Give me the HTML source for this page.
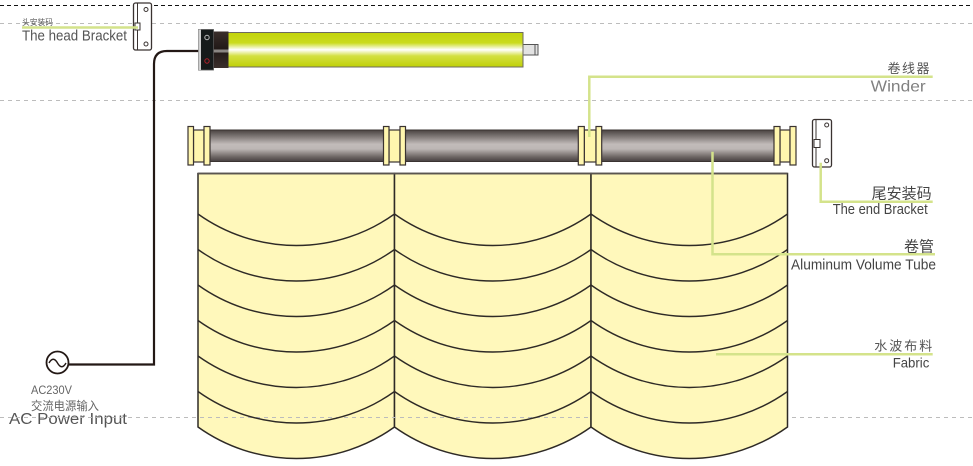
<!DOCTYPE html>
<html><head><meta charset="utf-8"><style>
html,body{margin:0;padding:0;background:#fff;}
svg{display:block;}
.en{font-family:"Liberation Sans",sans-serif;}
.cn{font-family:"Liberation Sans","Noto Sans CJK SC",sans-serif;}
</style></head><body>
<svg width="973" height="466" viewBox="0 0 973 466" xmlns="http://www.w3.org/2000/svg">
<defs>
<linearGradient id="yg" x1="0" y1="0" x2="0" y2="1">
<stop offset="0" stop-color="#c2d30a"/>
<stop offset="0.3" stop-color="#cadb1e"/>
<stop offset="0.5" stop-color="#ffffff"/>
<stop offset="0.68" stop-color="#d3e040"/>
<stop offset="1" stop-color="#c0d008"/>
</linearGradient>
<linearGradient id="tg" x1="0" y1="0" x2="0" y2="1">
<stop offset="0" stop-color="#4a4341"/>
<stop offset="0.2" stop-color="#7d7674"/>
<stop offset="0.45" stop-color="#c1bbb9"/>
<stop offset="0.6" stop-color="#bdb7b5"/>
<stop offset="0.85" stop-color="#6e6765"/>
<stop offset="1" stop-color="#474040"/>
</linearGradient>
<linearGradient id="bg" x1="0" y1="0" x2="0" y2="1">
<stop offset="0" stop-color="#3a2e2b"/>
<stop offset="0.5" stop-color="#201816"/>
<stop offset="1" stop-color="#3a2e2b"/>
</linearGradient>
</defs>

<!-- dashed guide lines -->
<line x1="0" y1="5.5" x2="973" y2="5.5" stroke="#111" stroke-width="1" stroke-dasharray="4,3"/>
<line x1="0" y1="23.5" x2="973" y2="23.5" stroke="#bcbcbc" stroke-width="1" stroke-dasharray="4,4"/>
<line x1="0" y1="100.5" x2="973" y2="100.5" stroke="#bcbcbc" stroke-width="1" stroke-dasharray="4,4"/>
<line x1="0" y1="417.5" x2="973" y2="417.5" stroke="#bcbcbc" stroke-width="1" stroke-dasharray="4,4"/>

<!-- head bracket -->
<rect x="133.5" y="3" width="18" height="47" rx="2" fill="#fff" stroke="#3a3331" stroke-width="1.3"/>
<line x1="137.5" y1="3" x2="137.5" y2="50" stroke="#3a3331" stroke-width="1"/>
<rect x="135" y="23" width="5" height="7" fill="#fff" stroke="#3a3331" stroke-width="1"/>
<circle cx="146" cy="9.5" r="2" fill="#fff" stroke="#3a3331" stroke-width="1"/>
<circle cx="146" cy="44" r="2" fill="#fff" stroke="#3a3331" stroke-width="1"/>
<line x1="22" y1="27.5" x2="138" y2="27.5" stroke="#d4e38b" stroke-width="2.5"/>
<text x="22" y="25" class="cn" font-size="8" fill="#555" textLength="31" lengthAdjust="spacingAndGlyphs">头安装码</text>
<text x="22" y="40.5" class="en" font-size="14.5" fill="#555" textLength="105" lengthAdjust="spacingAndGlyphs">The head  Bracket</text>

<!-- cable -->
<path d="M199,51 H167 Q154,51 154,64 V364.5 H69" fill="none" stroke="#231815" stroke-width="2.2"/>
<circle cx="57.5" cy="362.5" r="11" fill="#fff" stroke="#231815" stroke-width="1.8"/>
<path d="M49,363 q4.2,-7.5 8.5,0 t8.5,0" fill="none" stroke="#231815" stroke-width="1.4"/>
<text x="31" y="394" class="en" font-size="12" fill="#666" textLength="41" lengthAdjust="spacingAndGlyphs">AC230V</text>
<text x="31" y="410" class="cn" font-size="12" fill="#666" textLength="68" lengthAdjust="spacingAndGlyphs">交流电源输入</text>
<text x="9" y="424" class="en" font-size="15.5" fill="#555" textLength="118" lengthAdjust="spacingAndGlyphs">AC Power Input</text>

<!-- motor -->
<rect x="523" y="44.5" width="15" height="10.5" fill="#e2e2e2" stroke="#555" stroke-width="1"/>
<line x1="535" y1="44.5" x2="535" y2="55" stroke="#555" stroke-width="1"/>
<rect x="228" y="32.5" width="295" height="34.5" fill="url(#yg)" stroke="#6d6a60" stroke-width="1"/>
<rect x="213" y="31.5" width="15.5" height="36.5" fill="url(#bg)"/>
<rect x="213" y="49.5" width="15.5" height="3" fill="#8a8683"/>
<rect x="198.5" y="29.5" width="15" height="40.5" fill="#161a1a" stroke="#555" stroke-width="0.8"/>
<rect x="198.5" y="29.5" width="2.5" height="40.5" fill="#cfcfcf"/>
<circle cx="207" cy="37.5" r="2.2" fill="none" stroke="#bbb" stroke-width="1"/>
<circle cx="207" cy="61" r="2.2" fill="none" stroke="#b0202a" stroke-width="1"/>

<!-- fabric panels -->
<g stroke="#2e2a26" stroke-width="1.5" fill="#fff8bb">
<path d="M198,173.5 H394.5 V427 A169,169 0 0 1 198,427 Z"/>
<path d="M394.5,173.5 H591 V427 A169,169 0 0 1 394.5,427 Z"/>
</g>
<line x1="0" y1="417.5" x2="591" y2="417.5" stroke="#bcbcbc" stroke-width="1" stroke-dasharray="4,4"/>
<g stroke="#2e2a26" stroke-width="1.5" fill="#fff8bb">
<path d="M591,173.5 H787.5 V427 A169,169 0 0 1 591,427 Z"/>
</g>
<line x1="198" y1="173.5" x2="787.5" y2="173.5" stroke="#5a5550" stroke-width="1.8"/>
<g stroke="#2e2a26" stroke-width="1.4" fill="none">
<path d="M198,214 A169,169 0 0 0 394.5,214 A169,169 0 0 0 591,214 A169,169 0 0 0 787.5,214"/>
<path d="M198,249.5 A169,169 0 0 0 394.5,249.5 A169,169 0 0 0 591,249.5 A169,169 0 0 0 787.5,249.5"/>
<path d="M198,285 A169,169 0 0 0 394.5,285 A169,169 0 0 0 591,285 A169,169 0 0 0 787.5,285"/>
<path d="M198,320.5 A169,169 0 0 0 394.5,320.5 A169,169 0 0 0 591,320.5 A169,169 0 0 0 787.5,320.5"/>
<path d="M198,356 A169,169 0 0 0 394.5,356 A169,169 0 0 0 591,356 A169,169 0 0 0 787.5,356"/>
<path d="M198,391.5 A169,169 0 0 0 394.5,391.5 A169,169 0 0 0 591,391.5 A169,169 0 0 0 787.5,391.5"/>
</g>

<!-- winder tube -->
<g stroke="#3a3331" stroke-width="1">
<rect x="210" y="130" width="173.5" height="31.5" fill="url(#tg)"/>
<rect x="405.5" y="130" width="173" height="31.5" fill="url(#tg)"/>
<rect x="601.5" y="130" width="172.5" height="31.5" fill="url(#tg)"/>
</g>
<g stroke="#3a3331" stroke-width="1.2" fill="#fff6ae">
<rect x="193.5" y="130" width="10.5" height="32"/>
<rect x="188" y="126.5" width="5.5" height="38.5"/>
<rect x="204" y="126.5" width="6" height="38.5"/>
<rect x="389" y="130" width="11" height="32"/>
<rect x="383.5" y="126.5" width="5.5" height="38.5"/>
<rect x="400" y="126.5" width="5.5" height="38.5"/>
<rect x="584.3" y="130" width="11.7" height="32"/>
<rect x="578.3" y="126.5" width="6" height="38.5"/>
<rect x="596" y="126.5" width="5.7" height="38.5"/>
<rect x="780" y="130" width="10" height="32"/>
<rect x="774" y="126.5" width="6" height="38.5"/>
<rect x="790" y="126.5" width="6" height="38.5"/>
</g>

<!-- end bracket -->
<rect x="812.5" y="119.5" width="19" height="47.5" rx="2" fill="#fff" stroke="#3a3331" stroke-width="1.3"/>
<line x1="816" y1="119.5" x2="816" y2="167" stroke="#3a3331" stroke-width="1"/>
<rect x="814" y="139.5" width="6" height="8" fill="#fff" stroke="#3a3331" stroke-width="1"/>
<circle cx="826.7" cy="125" r="2" fill="#fff" stroke="#3a3331" stroke-width="1"/>
<circle cx="826.7" cy="160.7" r="2" fill="#fff" stroke="#3a3331" stroke-width="1"/>

<!-- label leader lines -->
<g stroke="#d4e38b" stroke-width="2.5" fill="none">
<path d="M589.3,137 V76.7 H932.7"/>
<path d="M820.7,162.7 V201.7 H932.7"/>
<path d="M712.5,151.7 V254.3 H935"/>
<path d="M716,354.3 H932.7"/>
</g>

<!-- labels right -->
<text x="931" y="73" class="cn" font-size="13" fill="#555" text-anchor="end" letter-spacing="1.5">卷线器</text>
<text x="870.7" y="91.7" class="en" font-size="16" fill="#808080" textLength="55" lengthAdjust="spacingAndGlyphs">Winder</text>
<text x="931.7" y="198.5" class="cn" font-size="15" fill="#444" text-anchor="end">尾安装码</text>
<text x="832.7" y="214" class="en" font-size="14.5" fill="#444" textLength="95" lengthAdjust="spacingAndGlyphs">The end Bracket</text>
<text x="934" y="251.5" class="cn" font-size="15" fill="#444" text-anchor="end">卷管</text>
<text x="791" y="269.3" class="en" font-size="14.5" fill="#444" textLength="145" lengthAdjust="spacingAndGlyphs">Aluminum Volume Tube</text>
<text x="874.3" y="350.5" class="cn" font-size="13" fill="#555" textLength="58" lengthAdjust="spacing">水波布料</text>
<text x="892.7" y="367.3" class="en" font-size="14" fill="#444" textLength="36.6" lengthAdjust="spacingAndGlyphs">Fabric</text>
</svg>
</body></html>
